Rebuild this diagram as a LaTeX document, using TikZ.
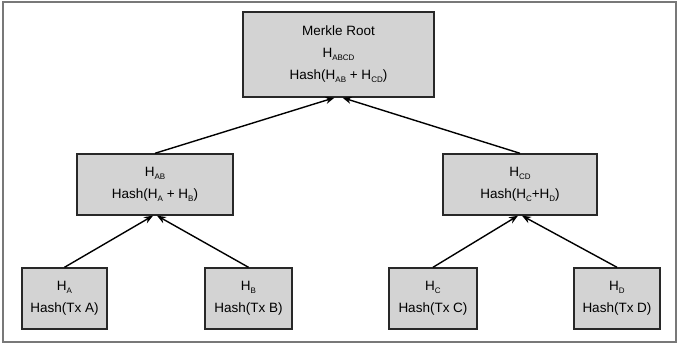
\documentclass[tikz,border=0pt]{standalone}
\usepackage{fontspec}
\setmainfont{Liberation Sans}
\usetikzlibrary{arrows.meta}
\newcommand{\sub}[1]{\raisebox{-0.45ex}{\fontsize{8}{8}\selectfont #1}}
\definecolor{boxfill}{RGB}{211,211,211}
\definecolor{boxline}{RGB}{40,40,40}
\definecolor{framecol}{RGB}{120,120,120}
\tikzset{
  hbox/.style={draw=boxline, fill=boxfill, line width=1.4pt, align=center,
    inner sep=0pt, font=\fontsize{13.5}{22}\selectfont},
  conn/.style={line width=1.4pt, -{Stealth[length=9pt,width=7pt]}}
}
\begin{document}
\begin{tikzpicture}[x=1pt,y=-1pt]
\useasboundingbox (0,0) rectangle (681,348);
\draw[framecol, line width=1.3pt] (3,2) rectangle (676,342);
\node[hbox, minimum width=191pt, minimum height=85pt] (root) at (338.5,54.5)
  {Merkle Root\\H\sub{ABCD}\\Hash(H\sub{AB} + H\sub{CD})};
\node[hbox, minimum width=156pt, minimum height=61pt] (hab) at (155,184.5)
  {H\sub{AB}\\Hash(H\sub{A} + H\sub{B})};
\node[hbox, minimum width=154pt, minimum height=61pt] (hcd) at (520,184.5)
  {H\sub{CD}\\Hash(H\sub{C}+H\sub{D})};
\node[hbox, minimum width=85pt, minimum height=61pt] (ha) at (64.5,298.5)
  {H\sub{A}\\Hash(Tx A)};
\node[hbox, minimum width=87pt, minimum height=61pt] (hb) at (248.5,298.5)
  {H\sub{B}\\Hash(Tx B)};
\node[hbox, minimum width=88pt, minimum height=61pt] (hc) at (433,298.5)
  {H\sub{C}\\Hash(Tx C)};
\node[hbox, minimum width=86pt, minimum height=61pt] (hd) at (617,298.5)
  {H\sub{D}\\Hash(Tx D)};
\draw[conn] (ha.north) -- ([xshift=-2pt]hab.south);
\draw[conn] (hb.north) -- ([xshift=2pt]hab.south);
\draw[conn] (hc.north) -- ([xshift=-2pt]hcd.south);
\draw[conn] (hd.north) -- ([xshift=2pt]hcd.south);
\draw[conn] (hab.north) -- ([xshift=-4pt]root.south);
\draw[conn] (hcd.north) -- ([xshift=4pt]root.south);
\end{tikzpicture}
\end{document}
